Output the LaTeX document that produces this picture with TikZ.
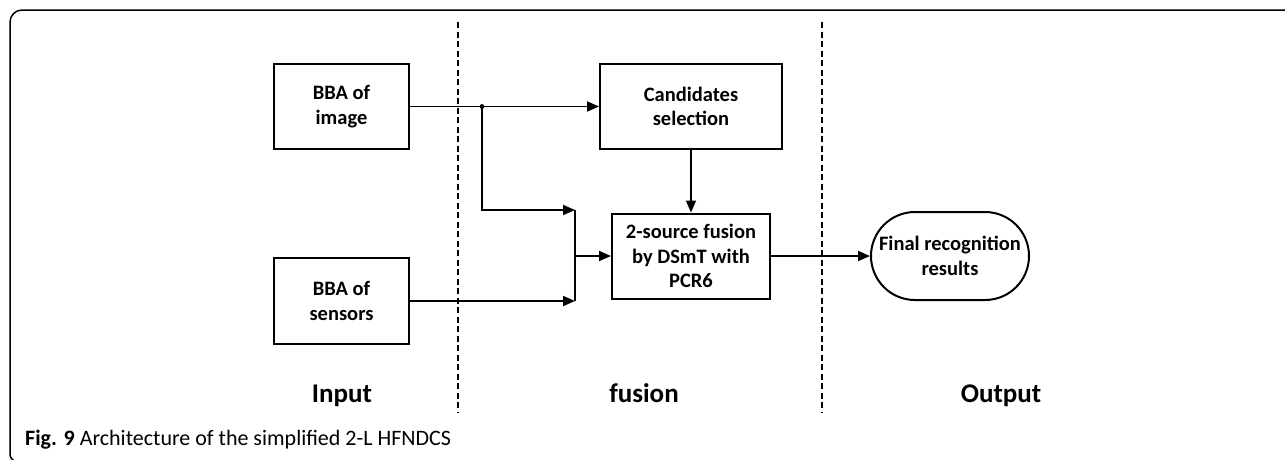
\documentclass[tikz,border=0pt]{standalone}
\usepackage{fontspec}
\setmainfont{Carlito}
\usetikzlibrary{arrows.meta,shapes.misc}
\begin{document}
\begin{tikzpicture}[x=1pt,y=-1pt,
 box/.style={draw,line width=2pt,inner sep=0pt,align=center,font=\fontsize{20.5}{24.5}\selectfont\bfseries},
 arr/.style={line width=1.8pt,-{Triangle[length=12pt,width=10pt]}},
 ln/.style={line width=1.8pt},
 sep/.style={line width=1.5pt,dash pattern=on 6pt off 3.5pt},
 lab/.style={anchor=base,inner sep=0pt,font=\fontsize{27}{30}\selectfont\bfseries},
 frame/.style={line width=1.5pt}]
\useasboundingbox (0,0) rectangle (1285,459);
% frame
\draw[frame,rounded corners=12pt] (10,452) -- (10,10) -- (1295,10);
\draw[frame] (10,452) .. controls (10,457) .. (14,461);
% separators
\draw[sep] (458,22) -- (458,413);
\draw[sep] (822,22) -- (822,413);
% nodes
\node[box,minimum width=135pt,minimum height=85pt] (img) at (341.5,106.5) {BBA of\\image};
\node[box,minimum width=135pt,minimum height=86pt] (sens) at (341.5,301) {BBA of\\sensors};
\node[box,minimum width=182pt,minimum height=85pt] (cand) at (691,106.5) {Candidates\\selection};
\node[box,minimum width=158pt,minimum height=85pt] (fus) at (691,256) {2-source fusion\\by DSmT with\\PCR6};
\node[box,rounded rectangle,minimum width=158pt,minimum height=88pt] (fin) at (950,256) {Final recognition\\results};
% connectors
\draw[arr] (img.east) -- (cand.west);
\coordinate (j) at (482,106.5);
\fill (j) circle (2.4);
\coordinate (bt) at (575,210);
\coordinate (bb) at (575,301);
\coordinate (bm) at (575,256);
\draw[arr] (j) |- (bt);
\draw[arr] (sens.east) -- (bb);
\draw[ln] (bt) -- (bb);
\draw[arr] (bm) -- (fus.west);
\draw[arr] (cand.south) -- (fus.north);
\draw[arr] (fus.east) -- (fin.west);
% labels
\node[lab] (lin) at (342,402) {Input};
\node[lab] (lfu) at (644,402) {fusion};
\node[lab] (lout) at (1001,402) {Output};
\node[anchor=base west,inner sep=0pt,font=\fontsize{22}{24}\selectfont] (cap) at (25,445) {\textbf{Fig. 9} Architecture of the simplified 2-L HFNDCS};
\end{tikzpicture}
\end{document}
